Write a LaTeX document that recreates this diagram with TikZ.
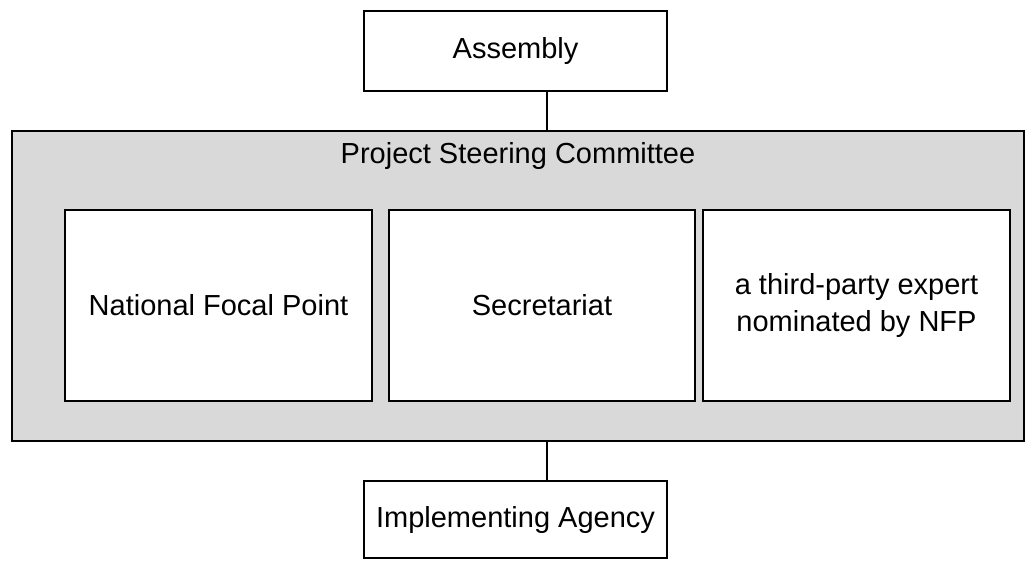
\documentclass[tikz,border=0pt]{standalone}
\usepackage{fontspec}
\setmainfont{Liberation Sans}
\definecolor{panelgray}{HTML}{D9D9D9}

\begin{document}
\begin{tikzpicture}[x=1pt, y=-1pt,
    box/.style={draw, line width=2pt, fill=white, align=center, inner sep=0pt,
                font=\fontsize{29}{37}\selectfont},
    link/.style={line width=2pt}]

    \useasboundingbox (0,0) rectangle (1035,560);

    % Draw the grey committee panel and its title
    \node[box, fill=panelgray, minimum width=1012pt, minimum height=310pt] (psc) at (518,285.5) {};
    \node[font=\fontsize{29}{34}\selectfont] (psctitle) at (518,156) {Project Steering Committee};

    % The three members inside the panel
    \node[box, minimum width=307pt, minimum height=191pt] (nfp) at (218.5,305.5) {National Focal Point};
    \node[box, minimum width=306pt, minimum height=191pt] (secr) at (542,305.5) {Secretariat};
    \node[box, minimum width=307pt, minimum height=191pt] (expert) at (856.5,305.5)
        {a third-party expert\\nominated by NFP};

    % Top and bottom boxes
    \node[box, minimum width=303pt, minimum height=80pt] (assembly) at (515.5,50.5) {Assembly};
    \node[box, minimum width=303pt, minimum height=77pt] (agency) at (515.5,519.5) {Implementing Agency};

    % Connect them to the panel
    \draw[link] (assembly.south -| 547,0) -- (psc.north -| 547,0);
    \draw[link] (psc.south -| 547,0) -- (agency.north -| 547,0);
\end{tikzpicture}
\end{document}
